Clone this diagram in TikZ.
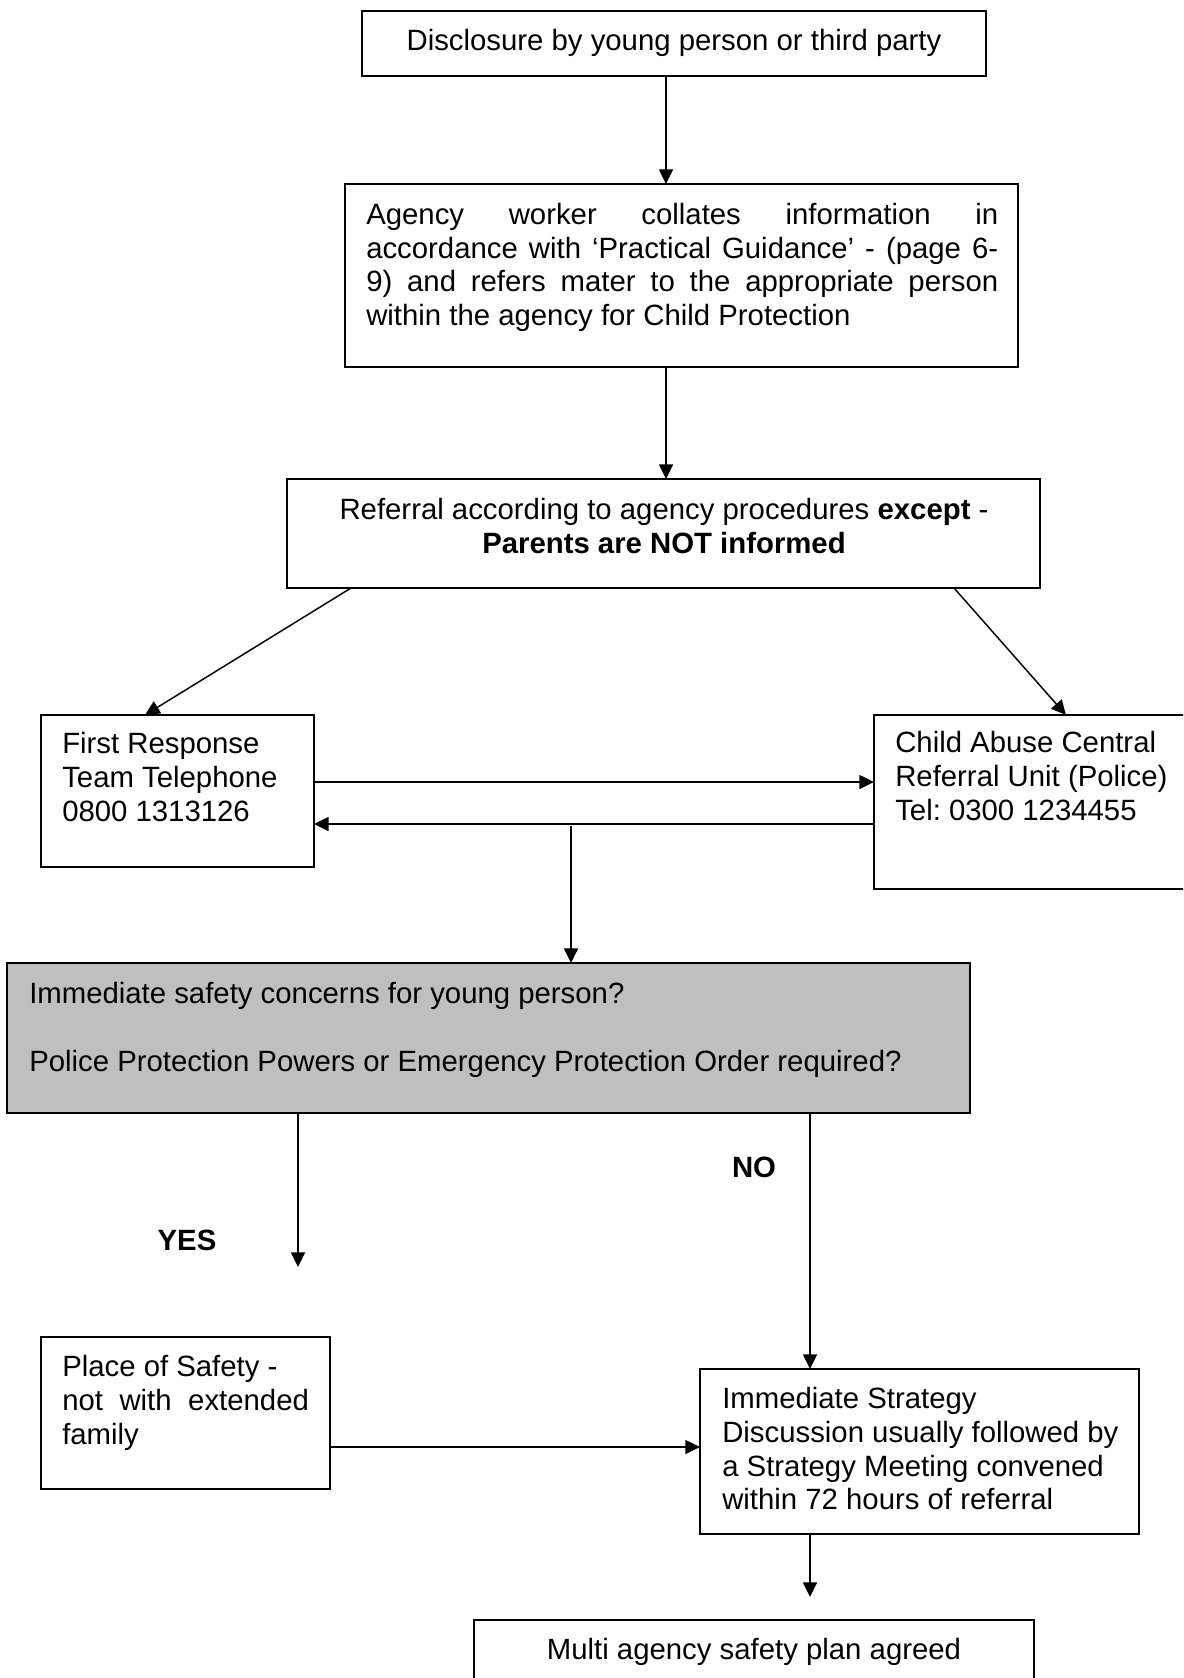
\documentclass[tikz,border=0pt]{standalone}
\usepackage{fontspec}
\setmainfont{Liberation Sans}
\usetikzlibrary{arrows.meta}
\begin{document}
\begin{tikzpicture}[x=0.75pt,y=-0.75pt,
  box/.style={draw, line width=1.4pt, inner sep=0pt, outer sep=0pt, anchor=north west},
  txt/.style={inner sep=0pt, font=\fontsize{22}{25.3}\selectfont, align=left},
  lbl/.style={inner sep=0pt, font=\fontsize{22}{25.3}\selectfont\bfseries},
  arr/.style={line width=1.1pt, -{Triangle[length=11pt,width=10.5pt]}}]
\clip (0,0) rectangle (1183,1678);
\fill[white] (0,0) rectangle (1183,1678);
% boxes
\node[box, minimum width=468pt, minimum height=48.75pt] (b1) at (362,11) {};
\node[box, minimum width=504.75pt, minimum height=137.25pt] (b2) at (345,184) {};
\node[box, minimum width=564.75pt, minimum height=81.75pt] (b3) at (287,479) {};
\node[box, minimum width=204.75pt, minimum height=114pt] (b4) at (41,715) {};
\node[box, minimum width=240.75pt, minimum height=130.5pt] (b5) at (874,715) {};
\node[box, fill=black!25, minimum width=722.25pt, minimum height=112.5pt] (b6) at (7,963) {};
\node[box, minimum width=216.75pt, minimum height=114pt] (b7) at (41,1337) {};
\node[box, minimum width=329.25pt, minimum height=123.75pt] (b8) at (700,1369) {};
\node[box, minimum width=420pt, minimum height=60pt] (b9) at (474,1620) {};
% texts
\node[txt, anchor=north] (t1) at (674,29) {Disclosure by young person or third party};
\node[txt, anchor=north west] (t2) at (366,203) {%
\makebox[474pt][s]{Agency worker collates information in}\\
\makebox[474pt][s]{accordance with ‘Practical Guidance’ - (page 6-}\\
\makebox[474pt][s]{9) and refers mater to the appropriate person}\\
within the agency for Child Protection};
\node[txt, anchor=north, align=center] (t3) at (664,498) {Referral according to agency procedures \textbf{except} -\\ \textbf{Parents are NOT informed}};
\node[txt, anchor=north west] (t4) at (62,732) {First Response\\ Team Telephone\\ 0800 1313126};
\node[txt, anchor=north west] (t5) at (895,731) {Child Abuse Central\\ Referral Unit (Police)\\ Tel:\ 0300 1234455};
\node[txt, anchor=north west] (t6) at (29,982) {Immediate safety concerns for young person?\\[25.3pt]
Police Protection Powers or Emergency Protection Order required?};
\node[txt, anchor=north west] (t7) at (62,1355) {Place of Safety -\\ \makebox[185pt][s]{not with extended}\\ family};
\node[txt, anchor=north west] (t8) at (722,1387) {Immediate Strategy\\ Discussion usually followed by\\ a Strategy Meeting convened\\ within 72 hours of referral};
\node[txt, anchor=north] (t9) at (754,1638) {Multi agency safety plan agreed};
\node[lbl] (yes) at (187,1240) {YES};
\node[lbl] (no) at (754,1167) {NO};
% helper coordinates
\coordinate (xa) at (666,0);
\coordinate (dl1) at (351,0);
\coordinate (dl2) at (145,0);
\coordinate (dr1) at (954,0);
\coordinate (dr2) at (1066,0);
\coordinate (ya) at (0,782);
\coordinate (yb) at (0,824);
\coordinate (j) at (571,826);
\coordinate (yx) at (298,1267);
\coordinate (nx) at (810,0);
\coordinate (yc) at (0,1447);
\coordinate (fe) at (810,1597);
% connectors
\draw[arr] (b1.south -| xa) -- (b2.north -| xa);
\draw[arr] (b2.south -| xa) -- (b3.north -| xa);
\draw[arr] (b3.south -| dl1) -- (b4.north -| dl2);
\draw[arr] (b3.south -| dr1) -- (b5.north -| dr2);
\draw[arr] (b4.east |- ya) -- (b5.west |- ya);
\draw[arr] (b5.west |- yb) -- (b4.east |- yb);
\draw[arr] (j) -- (b6.north -| j);
\draw[arr] (b6.south -| yx) -- (yx);
\draw[arr] (b6.south -| nx) -- (b8.north -| nx);
\draw[arr] (b7.east |- yc) -- (b8.west |- yc);
\draw[arr] (b8.south -| fe) -- (fe);
\end{tikzpicture}
\end{document}
